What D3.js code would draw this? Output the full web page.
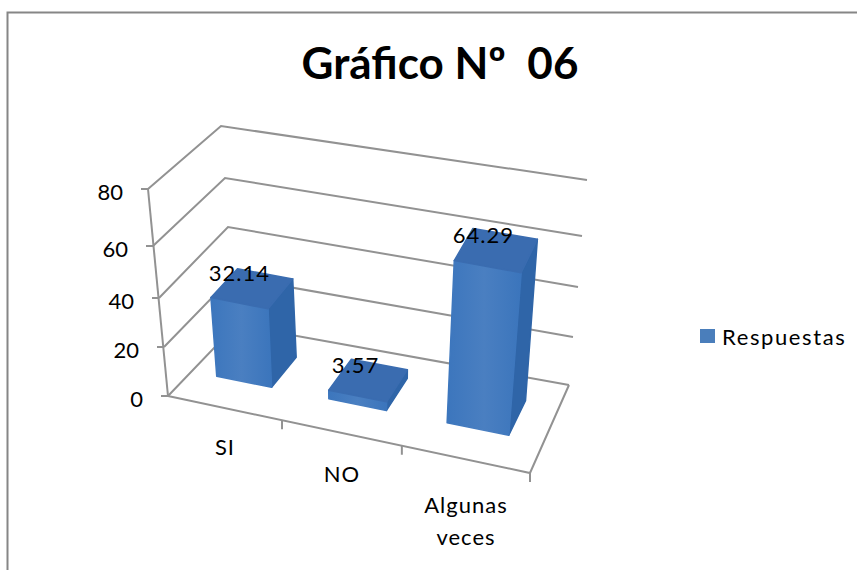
<!DOCTYPE html>
<html>
<head>
<meta charset="utf-8">
<script src="https://cdn.jsdelivr.net/npm/d3@7"></script>
<style>
  html, body { margin: 0; padding: 0; background: #fff; }
  svg { display: block; }
  text { font-family: Lato, "Open Sans", sans-serif; fill: #000; }
</style>
</head>
<body>
<svg id="chart" width="857" height="570"></svg>
<script>
const chartTitle = "Gráfico Nº  06";
const seriesName = "Respuestas";
const categories = ["SI", "NO", "Algunas veces"];
const respuestas = [32.14, 3.57, 64.29];
const valueTicks = [0, 20, 40, 60, 80];

// Corner columns of the 3D box, one screen position per value tick.
const frontLeftX = [168, 164, 159, 153, 148];
const frontLeftY = [396, 347, 298, 246, 189];
const frontRightX = [530, 535, 540, 545, 550];
const frontRightY = [473, 425, 375, 322, 264];
const backLeftX = [236, 232, 228, 225, 221];
const backLeftY = [325, 277, 227, 178, 126];
const backRightX = [569, 573, 578, 582, 587];
const backRightY = [385, 337, 287, 236, 180];

const svg = d3.select("#chart");

const column = (xs, ys) => {
  const x = d3.scaleLinear().domain(valueTicks).range(xs);
  const y = d3.scaleLinear().domain(valueTicks).range(ys);
  return h => [x(h), y(h)];
};
const FL = column(frontLeftX, frontLeftY);
const FR = column(frontRightX, frontRightY);
const BL = column(backLeftX, backLeftY);
const BR = column(backRightX, backRightY);

// Category slots along the floor are foreshortened, so the edges are not evenly spaced.
const slot = d3.scaleLinear().domain([0, 1, 2, 3]).range([0, 0.315, 0.646, 1]);
const depth = d3.scaleLinear().domain([0, 1]).range([0.35, 0.75]);

// Bilinear position inside the box: u along the categories, v into depth, h the value.
function project(u, v, h) {
  const a = FL(h), b = FR(h), c = BL(h), d = BR(h);
  const lerp = (p, q, t) => p + (q - p) * t;
  const f = [lerp(a[0], b[0], u), lerp(a[1], b[1], u)];
  const g = [lerp(c[0], d[0], u), lerp(c[1], d[1], u)];
  return [lerp(f[0], g[0], v), lerp(f[1], g[1], v)];
}

const defs = svg.append("defs");
const grad = defs.append("linearGradient").attr("id", "barFront");
grad.append("stop").attr("offset", "0%").attr("stop-color", "#3c76bd");
grad.append("stop").attr("offset", "50%").attr("stop-color", "#4a7fc1");
grad.append("stop").attr("offset", "100%").attr("stop-color", "#3b75bc");

// Chart frame: only the top and left borders fall inside the window.
svg.append("path")
  .attr("d", "M7.5,570V12.5H857")
  .attr("fill", "none").attr("stroke", "#868686").attr("stroke-width", 2);

svg.append("text")
  .attr("x", 440).attr("y", 79)
  .attr("text-anchor", "middle")
  .attr("font-size", 44).attr("font-weight", 700)
  .style("white-space", "pre")
  .text(chartTitle);

const wall = svg.append("g")
  .attr("fill", "none").attr("stroke", "#929292").attr("stroke-width", 2);
const line = d3.line();

valueTicks.forEach(t => {
  wall.append("path").attr("d", line([FL(t), BL(t), BR(t)]));
  const p = FL(t);
  wall.append("path").attr("d", line([[p[0] - 7, p[1]], p]));
});
wall.append("path").attr("d", line([FL(0), FL(80)]));
wall.append("path").attr("d", line([FL(0), FR(0), BR(0)]));

// Tick marks hanging below the front floor edge.
d3.range(1, 4).forEach(i => {
  const p = project(slot(i), 0, 0);
  wall.append("path").attr("d", line([p, [p[0], p[1] + 9]]));
});

svg.append("g").selectAll("text").data(valueTicks).join("text")
  .attr("x", d => FL(d)[0] - 25)
  .attr("y", d => FL(d)[1] + 4)
  .attr("dy", "0.32em")
  .attr("text-anchor", "end")
  .attr("font-size", 22)
  .text(d => d);

// Bars are drawn left to right, each as front, side and top faces.
const bars = svg.append("g").selectAll("g").data(respuestas).join("g");
const faceOf = (d, i, corners) => line(corners.map(([s, v, h]) =>
  project(slot(i + s), depth(v), h ? d : 0))) + "Z";
const barStart = 0.225, barEnd = 0.72;

function face(fill, corners) {
  bars.append("path")
    .attr("d", (d, i) => faceOf(d, i, corners))
    .attr("fill", fill).attr("stroke", fill)
    .attr("stroke-width", 1.5).attr("stroke-linejoin", "round");
}
face("#2f65a8", [[barEnd, 0, 0], [barEnd, 1, 0], [barEnd, 1, 1], [barEnd, 0, 1]]);
face("url(#barFront)", [[barStart, 0, 0], [barEnd, 0, 0], [barEnd, 0, 1], [barStart, 0, 1]]);
face("#3a6cb0", [[barStart, 0, 1], [barEnd, 0, 1], [barEnd, 1, 1], [barStart, 1, 1]]);

// Value labels sit just above the centre of each bar's top.
svg.append("g").selectAll("text").data(respuestas).join("text")
  .attr("x", (d, i) => project(slot(i + (barStart + barEnd) / 2), depth(0.5), d)[0] - 13)
  .attr("y", (d, i) => project(slot(i + (barStart + barEnd) / 2), depth(0.5), d)[1] - 15)
  .attr("dy", "0.35em")
  .attr("text-anchor", "middle")
  .attr("font-size", 22)
  .attr("letter-spacing", 1)
  .text(d => d);

// Category labels, with the long one wrapped over two lines.
const labelX = [225, 342, 466];
const labelY = [447, 474, 505];
svg.append("g").selectAll("text").data(categories).join("text")
  .attr("text-anchor", "middle")
  .attr("font-size", 22)
  .attr("letter-spacing", 1)
  .each(function (d, i) {
    d.split(" ").forEach((word, k) => {
      d3.select(this).append("tspan")
        .attr("x", labelX[i])
        .attr("y", labelY[i] + k * 32)
        .attr("dy", "0.35em")
        .text(word);
    });
  });

// Legend
svg.append("rect")
  .attr("x", 700).attr("y", 329).attr("width", 15).attr("height", 14)
  .attr("fill", "#4a7ebb");
svg.append("text")
  .attr("x", 722).attr("y", 337).attr("dy", "0.35em")
  .attr("font-size", 22)
  .attr("letter-spacing", 1.6)
  .text(seriesName);
</script>
</body>
</html>
